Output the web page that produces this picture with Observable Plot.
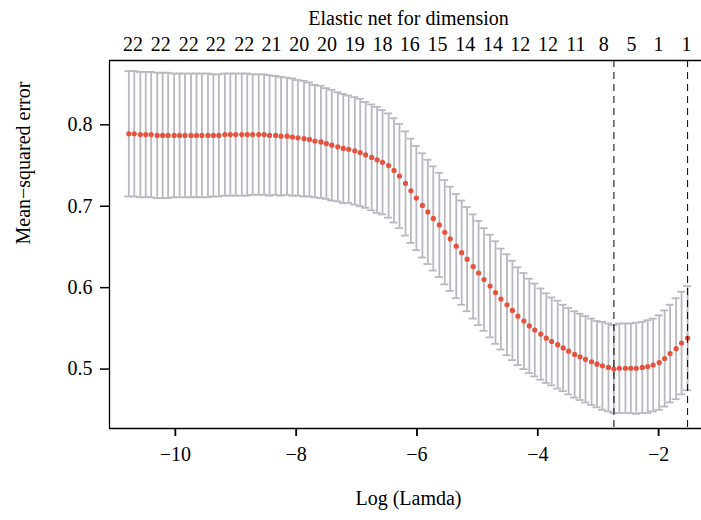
<!DOCTYPE html>
<html><head><meta charset="utf-8">
<script src="https://cdn.jsdelivr.net/npm/d3@7"></script>
<script src="https://cdn.jsdelivr.net/npm/@observablehq/plot@0.6"></script>
<style>
html,body{margin:0;padding:0;background:#fff;overflow:hidden;}
svg text{font-family:"Liberation Serif","DejaVu Serif",serif !important;}
</style>
</head><body><div id="chart"></div>
<script>
// log(lambda) grid (x), cross-validated mean-squared error and its standard error
const logLambda = [-10.77,-10.68,-10.58,-10.49,-10.40,-10.30,-10.21,-10.12,-10.02,-9.93,
  -9.84,-9.74,-9.65,-9.56,-9.46,-9.37,-9.28,-9.18,-9.09,-9.00,
  -8.90,-8.81,-8.72,-8.62,-8.53,-8.44,-8.34,-8.25,-8.15,-8.06,
  -7.97,-7.87,-7.78,-7.69,-7.59,-7.50,-7.41,-7.31,-7.22,-7.13,
  -7.03,-6.94,-6.85,-6.75,-6.66,-6.57,-6.47,-6.38,-6.29,-6.19,
  -6.10,-6.01,-5.91,-5.82,-5.73,-5.63,-5.54,-5.45,-5.35,-5.26,
  -5.17,-5.07,-4.98,-4.89,-4.79,-4.70,-4.61,-4.51,-4.42,-4.33,
  -4.23,-4.14,-4.05,-3.95,-3.86,-3.77,-3.67,-3.58,-3.49,-3.39,
  -3.30,-3.21,-3.11,-3.02,-2.93,-2.83,-2.74,-2.65,-2.55,-2.46,
  -2.37,-2.27,-2.18,-2.09,-1.99,-1.90,-1.81,-1.71,-1.62,-1.52];
const cvm = [0.789,0.789,0.788,0.788,0.788,0.787,0.787,0.787,0.787,0.787,
  0.787,0.787,0.787,0.787,0.787,0.787,0.787,0.788,0.788,0.788,
  0.788,0.788,0.788,0.788,0.788,0.787,0.787,0.786,0.786,0.785,
  0.784,0.783,0.782,0.780,0.779,0.777,0.775,0.773,0.771,0.770,
  0.768,0.766,0.763,0.760,0.757,0.754,0.750,0.744,0.737,0.728,
  0.719,0.710,0.701,0.693,0.685,0.677,0.668,0.660,0.651,0.643,
  0.635,0.626,0.618,0.610,0.602,0.594,0.586,0.579,0.572,0.565,
  0.559,0.553,0.548,0.543,0.538,0.534,0.530,0.526,0.522,0.518,
  0.515,0.512,0.509,0.506,0.504,0.502,0.500,0.501,0.501,0.501,
  0.501,0.502,0.503,0.505,0.508,0.513,0.519,0.525,0.532,0.538];
const cvsd = [0.077,0.077,0.077,0.077,0.077,0.077,0.077,0.077,0.076,0.076,
  0.076,0.076,0.076,0.076,0.076,0.075,0.075,0.075,0.075,0.075,
  0.075,0.075,0.074,0.074,0.074,0.074,0.073,0.073,0.072,0.072,
  0.071,0.071,0.070,0.069,0.069,0.068,0.068,0.067,0.067,0.066,
  0.066,0.066,0.065,0.065,0.065,0.064,0.064,0.064,0.064,0.064,
  0.064,0.064,0.064,0.064,0.064,0.064,0.064,0.064,0.064,0.064,
  0.064,0.064,0.064,0.063,0.063,0.063,0.062,0.062,0.061,0.060,
  0.059,0.058,0.057,0.056,0.055,0.054,0.054,0.053,0.053,0.053,
  0.053,0.053,0.053,0.053,0.054,0.054,0.054,0.055,0.055,0.055,
  0.056,0.056,0.057,0.057,0.058,0.059,0.060,0.062,0.063,0.064];
// top axis: number of nonzero coefficients
const topTickPos = [-10.70,-10.24,-9.78,-9.33,-8.86,-8.41,-7.95,-7.49,-7.03,-6.57,-6.12,
  -5.66,-5.20,-4.74,-4.29,-3.83,-3.37,-2.91,-2.45,-2.00,-1.54];
const topTickLabels = ["22","22","22","22","22","21","20","20","19","18","16",
  "15","14","14","12","12","11","8","5","1","1"];
const xTicks = [-10,-8,-6,-4,-2];
const yTicks = [0.5,0.6,0.7,0.8];
const logLambdaMin = -2.74;
const logLambda1se = -1.52;
const xDomain = [-11.09, -1.29];
const yDomain = [0.427, 0.879];

const rows = logLambda.map((x, i) => ({x, m: cvm[i], hi: cvm[i] + cvsd[i], lo: cvm[i] - cvsd[i]}));
const topMap = new Map(topTickPos.map((p, i) => [p, topTickLabels[i]]));
const gray = "#b8b8c0";
const red = "#e6523d";
const font = "Liberation Serif";

const chart = Plot.plot({
  width: 701, height: 520,
  marginLeft: 109, marginRight: 0, marginTop: 60, marginBottom: 92,
  style: {fontFamily: font, fontSize: "20px", background: "white", color: "black"},
  x: {domain: xDomain, label: null},
  y: {domain: yDomain, label: null},
  marks: [
    Plot.ruleX(rows, {x: "x", y1: "lo", y2: "hi", stroke: gray, strokeWidth: 1.8}),
    Plot.ruleY(rows, {y: "hi", x1: "x", x2: "x", insetLeft: -4, insetRight: -4, stroke: gray, strokeWidth: 1.8}),
    Plot.ruleY(rows, {y: "lo", x1: "x", x2: "x", insetLeft: -4, insetRight: -4, stroke: gray, strokeWidth: 1.8}),
    Plot.dot(rows, {x: "x", y: "m", r: 2.6, fill: red, stroke: null}),
    Plot.ruleX([logLambdaMin, logLambda1se], {stroke: "black", strokeWidth: 1, strokeDasharray: "7,5"}),
    Plot.ruleY(yDomain, {stroke: "black", strokeWidth: 1.3}),
    Plot.ruleX([xDomain[0]], {stroke: "black", strokeWidth: 1.3}),
    Plot.axisX(xTicks, {anchor: "bottom", tickSize: 8, tickPadding: 10, strokeWidth: 1.8, label: null, fontSize: 20, fontFamily: font}),
    Plot.axisY(yTicks, {anchor: "left", tickSize: 9, tickPadding: 8, strokeWidth: 1.5, label: null, fontSize: 20, fontFamily: font, tickFormat: d3.format(".1f")}),
    Plot.axisX(topTickPos, {anchor: "top", tickSize: 0, tickPadding: 10, label: null, fontSize: 20, fontFamily: font, tickFormat: d => topMap.get(d)}),
    Plot.text(["Elastic net for dimension"], {frameAnchor: "top", lineAnchor: "bottom", dy: -36, dx: 3, fontSize: 20, fontFamily: font}),
    Plot.text(["Log (Lamda)"], {frameAnchor: "bottom", lineAnchor: "bottom", dy: 76, dx: 3, fontSize: 20, fontFamily: font}),
    Plot.text(["Mean\u2212squared error"], {frameAnchor: "left", lineAnchor: "bottom", rotate: -90, dx: -80, fontSize: 20, fontFamily: font})
  ]
});
document.getElementById("chart").appendChild(chart);
</script>
</body></html>
